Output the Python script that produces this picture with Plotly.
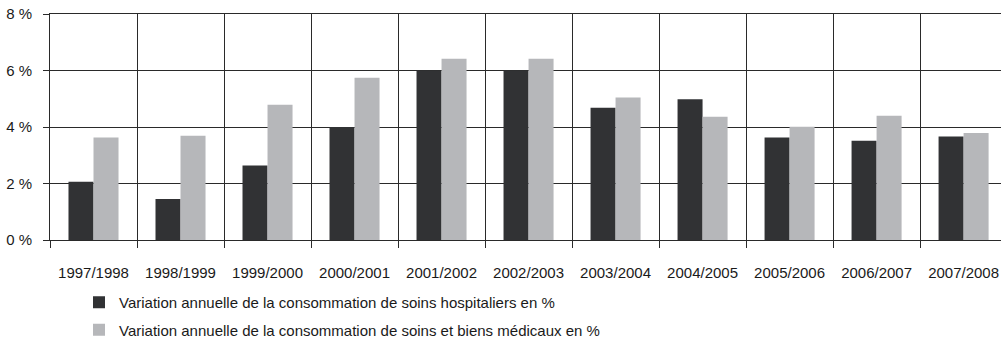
import plotly.graph_objects as go

periodes = ["1997/1998", "1998/1999", "1999/2000", "2000/2001", "2001/2002", "2002/2003",
            "2003/2004", "2004/2005", "2005/2006", "2006/2007", "2007/2008"]
soins_hospitaliers = [2.06, 1.45, 2.64, 4.0, 6.0, 6.0, 4.68, 4.98, 3.63, 3.51, 3.66]
soins_biens_medicaux = [3.63, 3.69, 4.79, 5.74, 6.42, 6.42, 5.04, 4.36, 4.01, 4.40, 3.79]
nom_hosp = "Variation annuelle de la consommation de soins hospitaliers en %"
nom_csbm = "Variation annuelle de la consommation de soins et biens médicaux en %"

police = "Liberation Sans, Arial, sans-serif"
taille = 15
trait = "#2a2a2a"

fig = go.Figure()
fig.add_trace(go.Bar(x=periodes, y=soins_hospitaliers, name=nom_hosp,
                     marker=dict(color="#313234", line=dict(width=0)),
                     legendgroup="a"))
fig.add_trace(go.Bar(x=periodes, y=soins_biens_medicaux, name=nom_csbm,
                     marker=dict(color="#b6b7ba", line=dict(width=0)),
                     legendgroup="b"))

fig.update_layout(
    width=1001, height=345,
    margin=dict(l=50, r=0, t=14, b=105, autoexpand=False),
    paper_bgcolor="white", plot_bgcolor="white",
    barmode="group", bargap=0.425, bargroupgap=0,
    font=dict(family=police, size=taille, color="#1a1a1a"),
    showlegend=True,
    legend=dict(x=79 / 1001, xref="container", xanchor="left",
                y=1 - 286 / 345, yref="container", yanchor="top",
                orientation="v", traceorder="grouped", tracegroupgap=5,
                font=dict(family=police, size=taille, color="#1a1a1a"),
                bgcolor="rgba(0,0,0,0)", borderwidth=0),
    xaxis=dict(type="category", range=[-0.5, 10.43],
               tickson="boundaries", ticks="outside", ticklen=7,
               tickcolor=trait, tickwidth=1, tickangle=0,
               ticklabelstandoff=19,
               showgrid=True, gridcolor=trait, gridwidth=1,
               showline=True, linecolor=trait, linewidth=1, mirror=True,
               tickfont=dict(size=taille)),
    yaxis=dict(range=[0, 8], dtick=2, tick0=0, ticksuffix=" %",
               ticks="outside", ticklen=6, tickcolor=trait,
               ticklabelstandoff=8,
               showgrid=True, gridcolor=trait, gridwidth=1,
               zeroline=True, zerolinecolor=trait, zerolinewidth=1,
               showline=True, linecolor=trait, linewidth=1,
               tickfont=dict(size=taille)),
)

fig.write_html("out.html")
